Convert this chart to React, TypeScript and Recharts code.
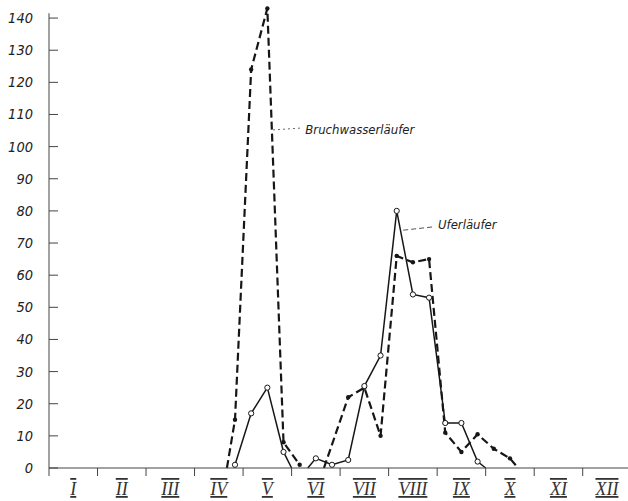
import {
  LineChart, Line, XAxis, YAxis, ReferenceLine, ReferenceDot,
} from 'recharts'

// x = ten-day period of the year (0..36), centres at .5, zero crossings on whole numbers
const bruchX = [11, 11.5, 12.5, 13.5, 14.5, 15.5, 16, 17, 18.5, 19.5, 20.5, 21.5, 22.5, 23.5, 24.5, 25.5, 26.5, 27.5, 28.5, 29]
const bruchY = [0, 15, 124, 143, 8, 1, null, 0, 22, 25, 10, 66, 64, 65, 11, 5, 10.5, 6, 3, 0]

const uferX = [11.5, 12.5, 13.5, 14.5, 15, 15.5, 16, 16.5, 17.5, 18.5, 19.5, 20.5, 21.5, 22.5, 23.5, 24.5, 25.5, 26.5, 27]
const uferY = [1, 17, 25, 5, 0, null, 0, 3, 1, 2.5, 25.5, 35, 80, 54, 53, 14, 14, 2, 0]

const months = ['I', 'II', 'III', 'IV', 'V', 'VI', 'VII', 'VIII', 'IX', 'X', 'XI', 'XII']
const monthEdges = months.map((_, i) => i * 3)
const yTicks = [0, 10, 20, 30, 40, 50, 60, 70, 80, 90, 100, 110, 120, 130, 140]

const bruchData = bruchX.map((x, i) => ({ x, y: bruchY[i] }))
const uferData = uferX.map((x, i) => ({ x, y: uferY[i] }))

const W = 628
const H = 501
const LEFT = 49
const X_MAX = 35.8
const HALF_MONTH = ((W - LEFT) / X_MAX) * 1.5

const INK = '#161616'
const AXIS = '#444'
const labelStyle = {
  fontFamily: "'DejaVu Sans', sans-serif",
  fontStretch: 'condensed',
  fontStyle: 'italic',
} as const

const MonthTick = (props: any) => {
  const { x, y, payload } = props
  const name = months[monthEdges.indexOf(payload.value)] ?? ''
  return (
    <g>
      <line x1={x} y1={y} x2={x} y2={y + 8} stroke={AXIS} strokeWidth={1} />
      <text
        x={x + HALF_MONTH}
        y={y + 27}
        textAnchor="middle"
        fill="#333"
        style={{ fontFamily: "'Liberation Serif', serif", fontStyle: 'italic', fontSize: 18, textDecoration: 'underline overline' }}
      >
        {name}
      </text>
    </g>
  )
}

const ValueTick = (props: any) => {
  const { x, y, payload } = props
  return (
    <g>
      <line x1={x} y1={y} x2={x + 9} y2={y} stroke={AXIS} strokeWidth={1} />
      <text x={x - 16} y={y + 5} textAnchor="end" fill="#222" style={{ ...labelStyle, fontSize: 14.5 }}>
        {payload.value}
      </text>
    </g>
  )
}

const filledDot = (props: any) => {
  const { cx, cy, payload, index } = props
  if (payload.y == null || payload.x % 1 === 0) return <g key={index} />
  return <circle key={index} cx={cx} cy={cy} r={2.2} fill={INK} />
}

const openDot = (props: any) => {
  const { cx, cy, payload, index } = props
  if (payload.y == null || payload.x % 1 === 0) return <g key={index} />
  return <circle key={index} cx={cx} cy={cy} r={2.6} fill="#fff" stroke={INK} strokeWidth={1} />
}

const annotation = (text: string) => (props: any) => {
  const { viewBox } = props
  return (
    <text x={viewBox.x} y={viewBox.y} dy={4} fill="#222" style={{ ...labelStyle, fontSize: 13 }}>
      {text}
    </text>
  )
}

export default function App() {
  return (
    <div style={{ position: 'absolute', left: 0, top: 0, background: '#fff' }}>
      <LineChart width={W} height={H} margin={{ top: 2, right: 0, bottom: 0, left: 0 }}>
        <XAxis
          dataKey="x"
          type="number"
          domain={[0, X_MAX]}
          ticks={monthEdges}
          tick={<MonthTick />}
          tickLine={false}
          tickSize={0}
          tickMargin={0}
          interval={0}
          height={33}
          stroke={AXIS}
        />
        <YAxis
          type="number"
          domain={[0, 145]}
          ticks={yTicks}
          width={LEFT}
          tick={<ValueTick />}
          tickLine={false}
          axisLine={false}
          tickSize={0}
          tickMargin={0}
          interval={0}
        />
        <ReferenceLine segment={[{ x: 0, y: 0 }, { x: 0, y: 141.5 }]} stroke={AXIS} strokeWidth={1} />
        <ReferenceLine
          segment={[{ x: 13.85, y: 105.2 }, { x: 15.65, y: 105.8 }]}
          stroke="#666"
          strokeDasharray="2 3"
        />
        <ReferenceDot x={15.85} y={105.3} r={0.01} fill="none" stroke="none" label={annotation('Bruchwasserläufer')} />
        <ReferenceLine
          segment={[{ x: 21.9, y: 74.0 }, { x: 23.7, y: 75.0 }]}
          stroke="#555"
          strokeDasharray="5 3"
        />
        <ReferenceDot x={24.05} y={75.6} r={0.01} fill="none" stroke="none" label={annotation('Uferläufer')} />
        <Line
          data={bruchData}
          dataKey="y"
          type="linear"
          stroke={INK}
          strokeWidth={2.2}
          strokeDasharray="8 4"
          dot={filledDot}
          activeDot={false}
          isAnimationActive={false}
        />
        <Line
          data={uferData}
          dataKey="y"
          type="linear"
          stroke={INK}
          strokeWidth={1.5}
          dot={openDot}
          activeDot={false}
          isAnimationActive={false}
        />
      </LineChart>
    </div>
  )
}
